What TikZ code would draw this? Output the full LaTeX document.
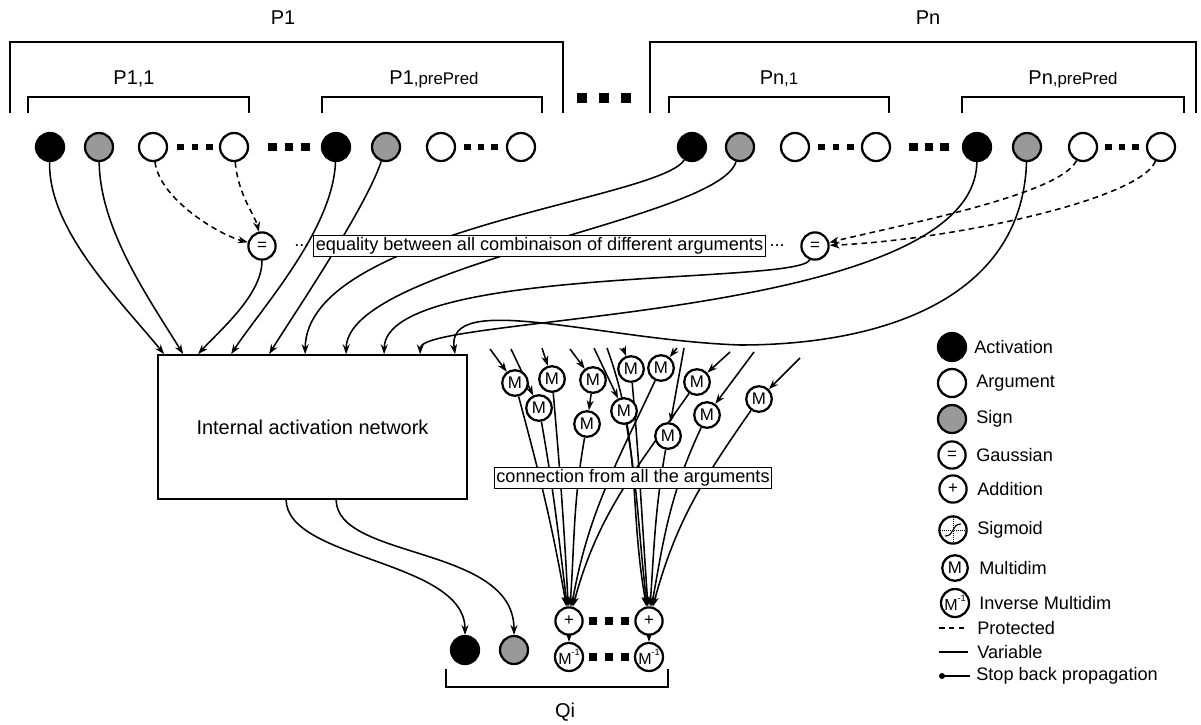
\documentclass[tikz,border=0pt]{standalone}
\usepackage{fontspec}
\setmainfont{Liberation Sans}
\usetikzlibrary{arrows.meta, positioning, calc, backgrounds}
\definecolor{cSign}{HTML}{999999}
\newcommand{\sqdots}[2]{\rule{#1}{#1}\hspace{#2}\rule{#1}{#1}\hspace{#2}\rule{#1}{#1}}
\newcommand{\invM}{M\raisebox{1.05ex}{\fontsize{6.5}{6.5}\selectfont -1}}
\newcommand{\subl}[1]{{\fontsize{12}{14}\selectfont #1}}
\tikzset{
  unit/.style={circle, draw, line width=1.6pt, minimum size=0.7cm, inner sep=0pt},
  act/.style={unit, fill=black},
  arg/.style={unit, fill=white},
  sgn/.style={unit, fill=cSign},
  op/.style={unit, fill=white, minimum size=0.68cm, font=\fontsize{12}{12}\selectfont},
  mdim/.style={op, minimum size=0.64cm, font=\fontsize{12}{12}\selectfont},
  minv/.style={op, minimum size=0.7cm, font=\fontsize{11.4}{12}\selectfont},
  lbl/.style={font=\fontsize{14.2}{16}\selectfont, inner sep=0pt},
  txt/.style={font=\fontsize{12.9}{15}\selectfont, inner sep=0pt, anchor=west},
  note/.style={draw, line width=1pt, fill=white, inner sep=1.5pt,
    font=\fontsize{12.9}{15}\selectfont},
  var/.style={-{Stealth[length=7pt, width=5pt]}, line width=1.1pt},
  prot/.style={var, dash pattern=on 4pt off 3pt},
  bigbr/.style={line width=1.7pt},
  smallbr/.style={line width=1.1pt},
  sq/.style={inner sep=0pt},
}
\begin{document}
\begin{tikzpicture}[x=0.025cm, y=-0.025cm]
  \useasboundingbox (0,0) rectangle (1201,724);

  % Predicate P1
  \node[lbl] (lp1) at (283,18) {P1};
  \draw[bigbr] (10,113) |- (563,42) -- (563,113);
  \node[lbl] (lp11) at (134,79) {P1,1};
  \draw[smallbr] (28,113) |- (249,97) -- (249,113);
  \node[lbl] (lp1p) at (434,79) {P1\subl{,prePred}};
  \draw[smallbr] (322,113) |- (542,97) -- (542,113);
  \node[sq] (gapdots) at (604,98) {\sqdots{0.25cm}{0.3cm}};

  % Predicate Pn
  \node[lbl] (lpn) at (928,18) {Pn};
  \draw[bigbr] (650,113) |- (1196,42) -- (1196,113);
  \node[lbl] (lpn1) at (779,79) {Pn\subl{,1}};
  \draw[smallbr] (669,113) |- (889,97) -- (889,113);
  \node[lbl] (lpnp) at (1073,79) {Pn\subl{,prePred}};
  \draw[smallbr] (962,113) |- (1184,97) -- (1184,113);

  % Units of P1
  \node[act] (p1act1) at (50,147) {};
  \node[sgn] (p1sgn1) at (99,147) {};
  \node[arg] (p1arg1) at (153,147) {};
  \node[sq] (p1dots1) at (195,147) {\sqdots{0.17cm}{0.19cm}};
  \node[arg] (p1arg2) at (234,147) {};
  \node[sq] (p1dots2) at (289,147) {\sqdots{0.22cm}{0.2cm}};
  \node[act] (p1act2) at (336,147) {};
  \node[sgn] (p1sgn2) at (386,147) {};
  \node[arg] (p1arg3) at (441,147) {};
  \node[sq] (p1dots3) at (481,147) {\sqdots{0.17cm}{0.16cm}};
  \node[arg] (p1arg4) at (521,147) {};

  % Units of Pn
  \node[act] (pnact1) at (692,147) {};
  \node[sgn] (pnsgn1) at (740,147) {};
  \node[arg] (pnarg1) at (795,147) {};
  \node[sq] (pndots1) at (836,147) {\sqdots{0.17cm}{0.19cm}};
  \node[arg] (pnarg2) at (876,147) {};
  \node[sq] (pndots2) at (929,147) {\sqdots{0.22cm}{0.17cm}};
  \node[act] (pnact2) at (977,147) {};
  \node[sgn] (pnsgn2) at (1027,147) {};
  \node[arg] (pnarg3) at (1083,147) {};
  \node[sq] (pndots3) at (1122,147) {\sqdots{0.17cm}{0.16cm}};
  \node[arg] (pnarg4) at (1161,147) {};

  % Gaussians
  \node[op] (eqL) at (262,246) {=};
  \node[op] (eqR) at (815,246) {=};
  \node[note] (eqtext) at (539.5,246)
    {equality between all combinaison of different arguments};
  \node[txt, anchor=east, left=0.08cm of eqtext] (eqdotsL) {...};
  \node[txt, right=0.08cm of eqtext] (eqdotsR) {...};

  % Internal network
  \node[draw, line width=1.2pt, minimum width=7.725cm, minimum height=3.6cm,
        font=\fontsize{14.2}{16}\selectfont] (net) at (312.5,427)
    {Internal activation network};
  \coordinate (in1) at ($(net.north west)+(7,0)$);
  \coordinate (in2) at ($(net.north west)+(26,0)$);
  \coordinate (in3) at ($(net.north west)+(41,0)$);
  \coordinate (in4) at ($(net.north west)+(74,0)$);
  \coordinate (in5) at ($(net.north west)+(112,0)$);
  \coordinate (in6) at ($(net.north west)+(148,0)$);
  \coordinate (in7) at ($(net.north west)+(189,0)$);
  \coordinate (in8) at ($(net.north west)+(227,0)$);
  \coordinate (in9) at ($(net.north west)+(263,0)$);
  \coordinate (in10) at ($(net.north west)+(298,0)$);
  \coordinate (out1) at ($(net.south west)+(129,0)$);
  \coordinate (out2) at ($(net.south west)+(179,0)$);

  % Multidim units
  \node[mdim] (m1) at (515,383) {M};
  \node[mdim] (m2) at (552,379) {M};
  \node[mdim] (m3) at (539,408) {M};
  \node[mdim] (m4) at (593,380) {M};
  \node[mdim] (m5) at (587,424) {M};
  \node[mdim] (m6) at (631,369) {M};
  \node[mdim] (m7) at (661,368) {M};
  \node[mdim] (m8) at (624,411) {M};
  \node[mdim] (m9) at (697,382) {M};
  \node[mdim] (m10) at (707,415) {M};
  \node[mdim] (m11) at (759,399) {M};
  \node[mdim] (m12) at (668,436) {M};
  \coordinate (ta) at (490,349);
  \coordinate (tb) at (511,349);
  \coordinate (tc) at (542,348);
  \coordinate (td) at (570,349);
  \coordinate (te) at (594,348);
  \coordinate (tf) at (607,348);
  \coordinate (tg) at (623,348);
  \coordinate (th) at (677,348);
  \coordinate (ti) at (684,348);
  \coordinate (tj) at (730,352);
  \coordinate (tk) at (754,352);
  \coordinate (tl) at (800,358);
  \node[note] (conn) at (633,478) {connection from all the arguments};

  % Output Qi
  \node[op] (pl1) at (569,621) {+};
  \node[op] (pl2) at (649,621) {+};
  \node[minv] (mi1) at (569,657) {\invM};
  \node[minv] (mi2) at (649,657) {\invM};
  \node[sq] (pldots) at (609,621) {\sqdots{0.2cm}{0.19cm}};
  \node[sq] (midots) at (609,657) {\sqdots{0.2cm}{0.19cm}};
  \node[act] (qact) at (465,650) {};
  \node[sgn] (qsgn) at (514,650) {};
  \draw[bigbr] (446,669) |- (668,687) -- (668,669);
  \node[lbl] (lq) at (565,712) {Qi};

  % Connectors
  \begin{scope}[on background layer]
    \draw[var] (p1act1) .. controls (48,230) and (120,300) .. (in1);
    \draw[var] (p1sgn1) .. controls (100,230) and (150,300) .. (in2);
    \draw[prot] (p1arg1) .. controls (160,200) and (220,235) .. (eqL);
    \draw[prot] (p1arg2) .. controls (238,195) and (255,215) .. (eqL);
    \draw[var] (eqL) .. controls (262,295) and (220,330) .. (in3);
    \draw[var] (p1act2) .. controls (333,230) and (260,310) .. (in4);
    \draw[var] (p1sgn2) .. controls (365,210) and (290,320) .. (in5);
    \draw[var] (pnact1) .. controls (660,200) and (306,230) .. (in6);
    \draw[var] (pnsgn1) .. controls (720,220) and (347,265) .. (in7);
    \draw[var] (eqR) .. controls (800,285) and (385,265) .. (in8);
    \draw[var] (pnact2) .. controls (975,320) and (421,315) .. (in9);
    \draw[var] (pnsgn2) .. controls (1022,300) and (880,345) .. (740,345)
      .. controls (600,340) and (445,290) .. (in10);
    \draw[prot] (pnarg3) .. controls (1060,195) and (900,225) .. (eqR);
    \draw[prot] (pnarg4) .. controls (1140,200) and (950,240) .. (eqR);

    \draw[var] (out1) .. controls (287,560) and (465,560) .. (qact);
    \draw[var] (out2) .. controls (337,560) and (514,545) .. (qsgn);

    \draw[var] (ta) -- (m1);
    \draw[var] (tb) -- (m3);
    \draw[var] (tc) -- (m2);
    \draw[var] (td) -- (m4);
    \draw[var] (te) -- (m8);
    \draw[var] (tg) -- (m6);
    \draw[var] (th) -- (m7);
    \draw[var] (ti) -- (m12);
    \draw[var] (tj) -- (m9);
    \draw[var] (tk) -- (m10);
    \draw[var] (tl) -- (m11);
    \draw[var] (m4) -- (m5);

    \draw[var] (m1) to[out=-75, in=100] (pl1);
    \draw[var] (m3) to[out=-80, in=97] (pl1);
    \draw[var] (m2) to[out=-85, in=93] (pl1);
    \draw[var] (m5) to[out=-100, in=86] (pl1);
    \draw[var] (m7) to[out=-115, in=80] (pl1);
    \draw[var] (m9) to[out=-125, in=75] (pl1);
    \draw[var] (tf) to[out=-70, in=100] (pl2);
    \draw[var] (m8) to[out=-80, in=97] (pl2);
    \draw[var] (m6) to[out=-85, in=94] (pl2);
    \draw[var] (m12) to[out=-100, in=86] (pl2);
    \draw[var] (m10) to[out=-115, in=80] (pl2);
    \draw[var] (m11) to[out=-125, in=75] (pl2);

    \draw[var] (pl1) -- (mi1);
    \draw[var] (pl2) -- (mi2);
  \end{scope}

  % Legend
  \node[act] (lgAct) at (952,347) {};
  \node[txt] (tAct) at (974,347) {Activation};
  \node[arg] (lgArg) at (952,383) {};
  \node[txt] (tArg) at (976,383) {Argument};
  \node[sgn] (lgSgn) at (952,419) {};
  \node[txt] (tSgn) at (976,419) {Sign};
  \node[op] (lgEq) at (952,455) {=};
  \node[txt] (tEq) at (976,455) {Gaussian};
  \node[op] (lgAdd) at (953,489) {+};
  \node[txt] (tAdd) at (977,489) {Addition};
  \node[op] (lgSig) at (953,530) {};
  \draw[densely dotted, line width=0.4pt] (lgSig.west) -- (lgSig.east)
    (lgSig.north) -- (lgSig.south);
  \draw[line width=0.8pt] ($(lgSig)+(-8,6)$) .. controls ($(lgSig)+(2,6)$)
    and ($(lgSig)+(-2,-6)$) .. ($(lgSig)+(8,-6)$);
  \node[txt] (tSig) at (977,530) {Sigmoid};
  \node[mdim] (lgM) at (955,568) {M};
  \node[txt] (tM) at (979,568) {Multidim};
  \node[minv] (lgMi) at (955,603) {\invM};
  \node[txt] (tMi) at (979,603) {Inverse Multidim};
  \coordinate (lgP1) at (939,628);
  \coordinate (lgP2) at (968,628);
  \draw[line width=1.1pt, dash pattern=on 4pt off 3pt] (lgP1) -- (lgP2);
  \node[txt] (tP) at (977,628) {Protected};
  \coordinate (lgV1) at (939,652);
  \coordinate (lgV2) at (968,652);
  \draw[line width=1.1pt] (lgV1) -- (lgV2);
  \node[txt] (tV) at (977,652) {Variable};
  \coordinate (lgS1) at (942,676);
  \coordinate (lgS2) at (970,676);
  \draw[line width=1.1pt] (lgS1) -- (lgS2);
  \fill (lgS1) circle (3);
  \node[txt] (tS) at (976,676) {Stop back propagation};

\end{tikzpicture}
\end{document}
